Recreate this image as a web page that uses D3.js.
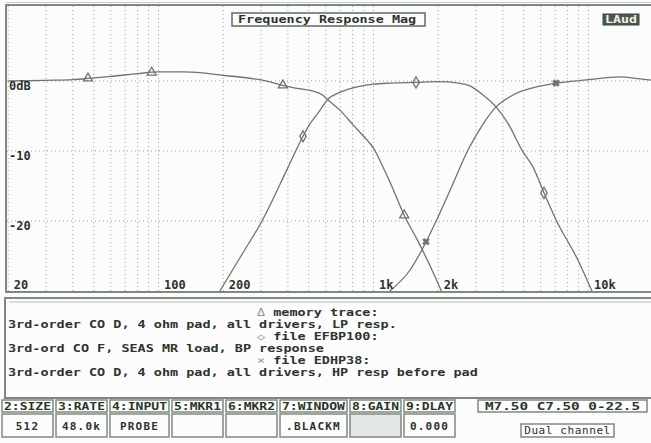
<!DOCTYPE html>
<html>
<head>
<meta charset="utf-8">
<script src="https://cdn.jsdelivr.net/npm/d3@7"></script>
<style>
  body { margin: 0; background: #fbfcfb; }
  svg { display: block; }
  text { font-family: "DejaVu Sans Mono", "Liberation Mono", monospace; font-weight: bold; fill: #2c342c; }
</style>
</head>
<body>
<svg id="chart" width="651" height="443"></svg>
<script>
// memory trace: LP response (Hz, dB)
const lpFreq = [20, 30, 40, 50, 60, 80, 100, 130, 160, 200, 250, 300, 370, 450, 520, 580, 614, 700, 800, 900, 1000, 1100, 1200, 1400, 1600, 1800, 2070];
const lpDb   = [0, 0.1, 0.2, 0.45, 0.65, 1.05, 1.3, 1.3, 1.15, 0.8, 0.5, 0.15, -0.55, -1.1, -1.4, -2.0, -2.7, -4.2, -6.2, -7.9, -9.6, -12.1, -14.6, -19.4, -22.7, -25.9, -30];
const lpMarks = [47, 93, 379, 1390];

// file EFBP100: BP response
const bpFreq = [193, 242, 303, 401, 470, 502, 552, 614, 700, 800, 1000, 1200, 1577, 2000, 2500, 2812, 3230, 3716, 4230, 4910, 5524, 6212, 7140, 8938, 10378];
const bpDb   = [-30, -25, -20, -12.3, -7.9, -6.3, -4.6, -2.6, -1.6, -1.0, -0.45, -0.3, -0.2, -0.1, -0.3, -0.7, -2.0, -3.7, -6.1, -9.9, -12.3, -16, -20.1, -25.6, -30];
const bpMarks = [470, 1577, 6212];

// file EDHP38: HP response
const hpFreq = [1191, 1480, 1682, 1950, 2318, 2748, 3194, 3716, 4457, 6016, 7060, 9840, 14030, 17370, 19800];
const hpDb   = [-30, -27, -24.1, -20.1, -15, -9.9, -6.4, -3.7, -2.0, -0.7, -0.3, 0.15, 0.6, 0.3, 0.1];
const hpMarks = [1755, 7060];

const xTickVals = [20, 100, 200, 1000, 2000, 10000];
const xTickLabels = ["20", "100", "200", "1k", "2k", "10k"];
const yTickVals = [0, -10, -20];
const yTickLabels = ["0dB", "-10", "-20"];

const title = "Frequency Response Mag";
const channelTag = "LAud";

const legendLines = [
  ["\u0394", " memory trace:"],
  ["", "3rd-order CO D, 4 ohm pad, all drivers, LP resp."],
  ["\u25C7", " file EFBP100:"],
  ["", "3rd-ord CO F, SEAS MR load, BP response"],
  ["\u00D7", " file EDHP38:"],
  ["", "3rd-order CO D, 4 ohm pad, all drivers, HP resp before pad"]
];

const btnLabels = ["2:SIZE", "3:RATE", "4:INPUT", "5:MKR1", "6:MKR2", "7:WINDOW", "8:GAIN", "9:DLAY"];
const btnValues = ["512", "48.0k", "PROBE", "", "", ".BLACKM", "", "0.000"];
const statusText = "M7.50 C7.50 0-22.5";
const modeText = "Dual channel";

const svg = d3.select('#chart');
const frame = '#7f8a7f', ink = '#2c342c', trace = '#6c776c', grid = '#959f95';
const cw = 8.1; // character cell of the analyser's screen font

// scales: 20 Hz sits on the left frame, 10 dB per 70 px
const x = d3.scaleLog().domain([20, 20000]).range([8.2, 653.2]);
const y = d3.scaleLinear().domain([-30, 10]).range([291, 11]);

svg.append('defs').append('clipPath').attr('id', 'plotclip')
  .append('rect').attr('x', 7).attr('y', 6).attr('width', 646).attr('height', 286);

// plot panel
svg.append('rect').attr('x', 6).attr('y', 5).attr('width', 660).attr('height', 287)
  .attr('fill', 'none').attr('stroke', frame).attr('stroke-width', 2);
svg.append('line').attr('x1', 6).attr('x2', 651).attr('y1', 2.5).attr('y2', 2.5)
  .attr('stroke', '#c3cbc3').attr('stroke-width', 1);

let plot = svg.append('g').attr('clip-path', 'url(#plotclip)');

// grid
plot.append('g').selectAll('line').data(x.ticks())
  .join('line')
  .attr('x1', d => x(d)).attr('x2', d => x(d))
  .attr('y1', 6).attr('y2', 292)
  .attr('stroke', grid).attr('stroke-width', 1).attr('stroke-dasharray', '1,3');
plot.append('g').selectAll('line').data(yTickVals)
  .join('line')
  .attr('x1', 7).attr('x2', 651)
  .attr('y1', d => y(d)).attr('y2', d => y(d))
  .attr('stroke', grid).attr('stroke-width', 1).attr('stroke-dasharray', '1,3');

// axes, labels drawn inside the plot like the analyser does
let xAxis = svg.append('g').attr('transform', 'translate(0,285)')
  .call(d3.axisBottom(x).tickValues(xTickVals).tickFormat((d, i) => xTickLabels[i]).tickSize(0).tickPadding(0));
xAxis.select('.domain').remove();
xAxis.selectAll('text')
  .attr('text-anchor', 'start').attr('dx', 5).attr('dy', '0.35em').attr('y', 0)
  .style('font-size', '12px').attr('fill', ink);

let yAxis = svg.append('g').attr('transform', 'translate(9,0)')
  .call(d3.axisRight(y).tickValues(yTickVals).tickFormat((d, i) => yTickLabels[i]).tickSize(0).tickPadding(0));
yAxis.select('.domain').remove();
yAxis.selectAll('text')
  .attr('text-anchor', 'start').attr('dy', '0.7em').attr('x', 0)
  .style('font-size', '12px').attr('fill', ink);

// traces
let line = d3.line().x(d => x(d[0])).y(d => y(d[1])).curve(d3.curveMonotoneX);
let series = [
  { f: lpFreq, db: lpDb, marks: lpMarks, sym: 'tri' },
  { f: bpFreq, db: bpDb, marks: bpMarks, sym: 'dia' },
  { f: hpFreq, db: hpDb, marks: hpMarks, sym: 'x' }
];

// level of a trace at f, linear in log frequency
function dbAt(s, f) {
  let i = d3.bisectRight(s.f, f) - 1;
  i = Math.max(0, Math.min(s.f.length - 2, i));
  let t = (Math.log(f) - Math.log(s.f[i])) / (Math.log(s.f[i + 1]) - Math.log(s.f[i]));
  return s.db[i] + t * (s.db[i + 1] - s.db[i]);
}

series.forEach(s => {
  plot.append('path')
    .datum(s.f.map((f, i) => [f, s.db[i]]))
    .attr('d', line)
    .attr('fill', 'none').attr('stroke', trace).attr('stroke-width', 1.3);

  let shape = s.sym === 'tri' ? d3.symbolTriangle : s.sym === 'dia' ? d3.symbolDiamond : d3.symbolCross;
  plot.append('g').selectAll('path').data(s.marks)
    .join('path')
    .attr('transform', f => `translate(${x(f)},${y(dbAt(s, f))})` + (s.sym === 'x' ? ' rotate(45)' : ''))
    .attr('d', d3.symbol().type(shape).size(s.sym === 'x' ? 30 : 36))
    .attr('fill', s.sym === 'x' ? trace : 'none')
    .attr('stroke', trace).attr('stroke-width', s.sym === 'x' ? 0.6 : 1.3);
});

// title and channel tag
svg.append('rect').attr('x', 232).attr('y', 13).attr('width', 193).attr('height', 13)
  .attr('fill', '#fbfcfb').attr('stroke', '#5f6a5f').attr('stroke-width', 1.5);
svg.append('text').attr('x', 238).attr('y', 19.5).attr('dy', '0.35em')
  .attr('textLength', title.length * cw).attr('lengthAdjust', 'spacingAndGlyphs')
  .style('font-size', '11px')
  .text(title);
svg.append('rect').attr('x', 603).attr('y', 14).attr('width', 36).attr('height', 11)
  .attr('fill', '#4d574d').attr('stroke', '#3f483f');
svg.append('text').attr('x', 605).attr('y', 19.5).attr('dy', '0.35em')
  .attr('textLength', 32).attr('lengthAdjust', 'spacingAndGlyphs')
  .style('font-size', '11px').style('fill', '#eef2ee')
  .text(channelTag);

// legend panel
svg.append('rect').attr('x', 5).attr('y', 298).attr('width', 660).attr('height', 100)
  .attr('fill', 'none').attr('stroke', frame).attr('stroke-width', 2);
svg.append('line').attr('x1', 9).attr('x2', 651).attr('y1', 302).attr('y2', 302)
  .attr('stroke', '#b4bdb4').attr('stroke-width', 1);

let legend = svg.append('g').selectAll('text').data(legendLines)
  .join('text')
  .attr('x', (d, i) => i % 2 === 0 ? 257 : 8)
  .attr('y', (d, i) => 312 + 12 * i)
  .attr('dy', '0.35em')
  .attr('textLength', d => (d[0] + d[1]).length * cw).attr('lengthAdjust', 'spacingAndGlyphs')
  .style('font-size', '10px');
legend.append('tspan').style('fill', '#8e988e').style('font-weight', 'normal').text(d => d[0]);
legend.append('tspan').text(d => d[1]);

// soft-key row
let bx = [];
btnLabels.reduce((acc, l) => { bx.push(acc); return acc + l.length * 8 + 6; }, 2);

let btn = svg.append('g').selectAll('g').data(btnLabels)
  .join('g')
  .attr('transform', (d, i) => `translate(${bx[i]},400)`);
btn.append('rect')
  .attr('width', d => d.length * 8 + 3).attr('height', 12)
  .attr('fill', 'none').attr('stroke', frame).attr('stroke-width', 1.5);
btn.append('rect')
  .attr('y', 14).attr('width', d => d.length * 8 + 3).attr('height', 23)
  .attr('fill', (d, i) => btnLabels[i] === '8:GAIN' ? '#e4e8e4' : 'none')
  .attr('stroke', frame).attr('stroke-width', 1.5);
btn.append('text')
  .attr('x', 2).attr('y', 6.5).attr('dy', '0.35em')
  .attr('textLength', d => d.length * 8 - 1).attr('lengthAdjust', 'spacingAndGlyphs')
  .style('font-size', '10px')
  .text(d => d);
btn.append('text')
  .attr('x', d => (d.length * 8 + 3) / 2).attr('y', 26).attr('dy', '0.35em')
  .attr('text-anchor', 'middle').style('font-size', '11px').style('letter-spacing', '1.2px')
  .text((d, i) => btnValues[i]);

// status boxes on the right
svg.append('rect').attr('x', 478).attr('y', 400).attr('width', 169).attr('height', 12)
  .attr('fill', 'none').attr('stroke', frame).attr('stroke-width', 1.5);
svg.append('text').attr('x', 485).attr('y', 406.5).attr('dy', '0.35em')
  .attr('textLength', 155).attr('lengthAdjust', 'spacingAndGlyphs')
  .style('font-size', '10px')
  .text(statusText);
svg.append('rect').attr('x', 521).attr('y', 424).attr('width', 93).attr('height', 13)
  .attr('fill', 'none').attr('stroke', frame).attr('stroke-width', 1.5);
svg.append('text').attr('x', 567.5).attr('y', 430.5).attr('dy', '0.35em')
  .attr('text-anchor', 'middle').style('font-size', '11px').style('font-weight', 'normal').style('letter-spacing', '0.6px')
  .text(modeText);
</script>
</body>
</html>
